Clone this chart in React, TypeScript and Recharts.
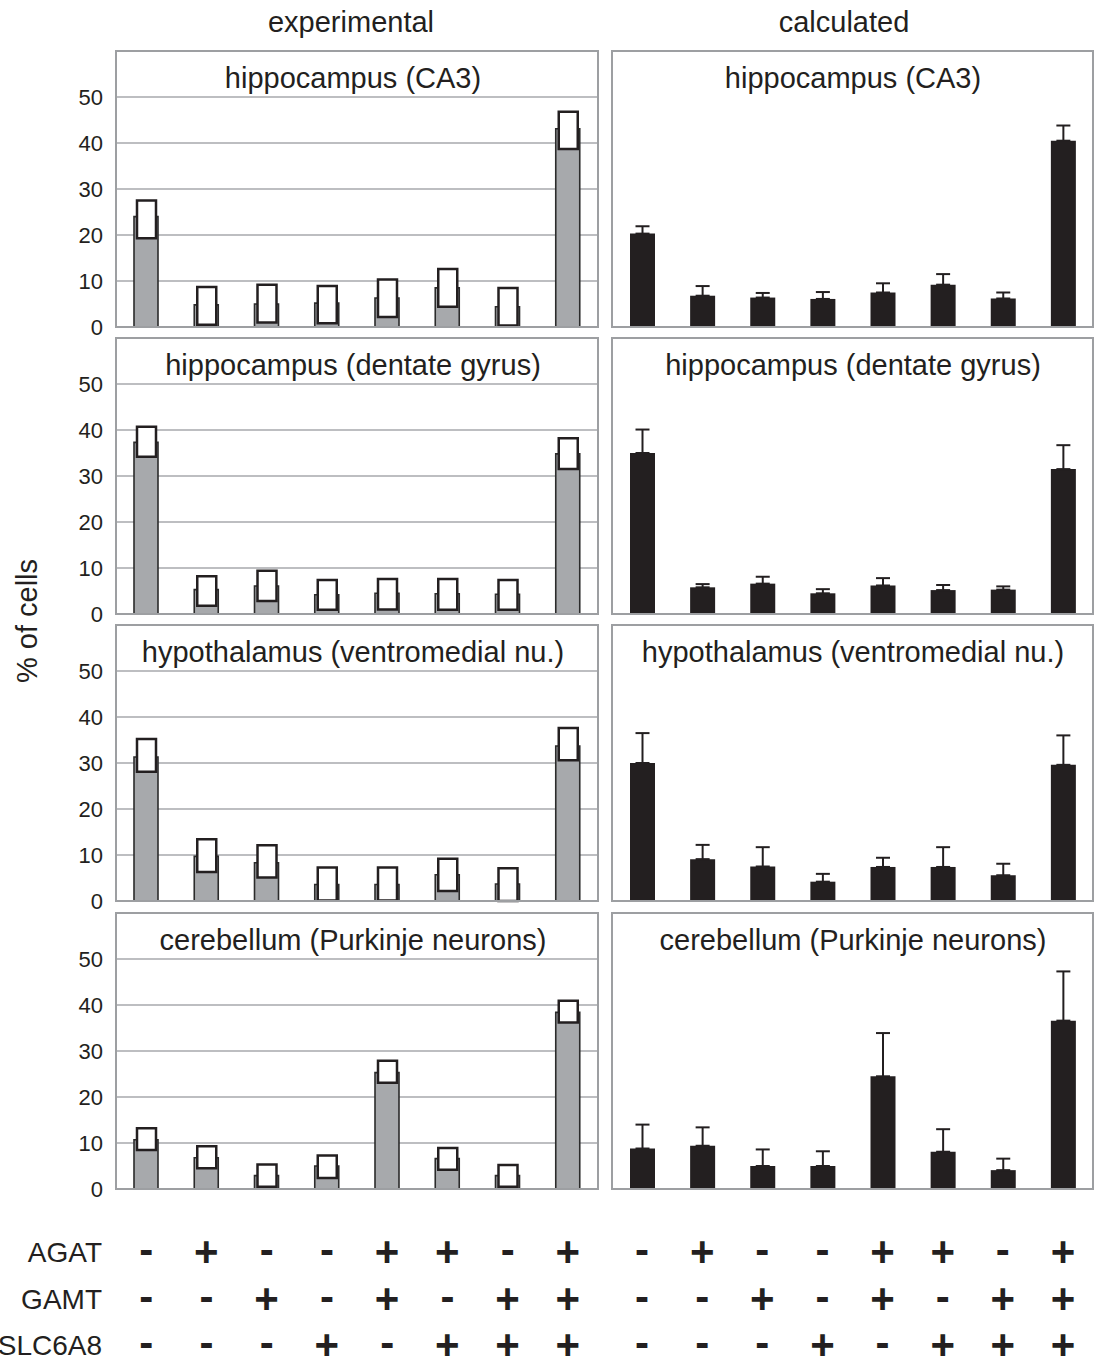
import React from "react";
import { BarChart, Bar, XAxis, YAxis, CartesianGrid, ErrorBar } from "recharts";

const FONT = '"Liberation Sans", Arial, Helvetica, sans-serif';
const INK = "#231f20";
const GRID = "#a7a9ac";

// genotype combos (bottom table)
const AGAT = ["-", "+", "-", "-", "+", "+", "-", "+"];
const GAMT = ["-", "-", "+", "-", "+", "-", "+", "+"];
const SLC6A8 = ["-", "-", "-", "+", "-", "+", "+", "+"];
const ROW_LABELS = ["AGAT", "GAMT", "SLC6A8"];
const Y_TICKS = [0, 10, 20, 30, 40, 50];

const TITLES = [
  "hippocampus (CA3)",
  "hippocampus (dentate gyrus)",
  "hypothalamus (ventromedial nu.)",
  "cerebellum (Purkinje neurons)",
];

// experimental: bar value + white box (low..high)
const ca3Exp = [24.0, 4.8, 5.0, 5.2, 6.3, 8.5, 4.4, 43.1];
const ca3ExpLow = [19.3, 0.5, 1.0, 0.8, 2.2, 4.4, 0.3, 38.7];
const ca3ExpHigh = [27.5, 8.7, 9.2, 8.9, 10.3, 12.6, 8.5, 46.8];
const dgExp = [37.3, 5.3, 6.1, 4.2, 4.5, 4.4, 4.3, 34.8];
const dgExpLow = [34.2, 1.8, 2.8, 0.9, 1.0, 0.9, 0.9, 31.5];
const dgExpHigh = [40.7, 8.2, 9.4, 7.4, 7.6, 7.6, 7.4, 38.2];
const hypExp = [31.3, 9.7, 8.3, 3.6, 3.6, 5.7, 3.7, 33.7];
const hypExpLow = [28.1, 6.3, 5.1, 0.1, 0.1, 2.2, 0.0, 30.6];
const hypExpHigh = [35.2, 13.4, 12.1, 7.3, 7.3, 9.2, 7.1, 37.6];
const cerExp = [10.7, 6.8, 2.9, 5.0, 25.3, 6.6, 2.9, 38.4];
const cerExpLow = [8.5, 4.5, 0.5, 2.4, 23.1, 4.2, 0.5, 36.2];
const cerExpHigh = [13.2, 9.3, 5.3, 7.3, 27.9, 8.9, 5.2, 40.9];

// calculated: bar value + upper error
const ca3Calc = [20.3, 6.8, 6.4, 6.1, 7.5, 9.2, 6.2, 40.5];
const ca3CalcErr = [1.6, 2.1, 1.0, 1.5, 2.0, 2.3, 1.3, 3.3];
const dgCalc = [35.0, 5.8, 6.6, 4.5, 6.2, 5.2, 5.3, 31.5];
const dgCalcErr = [5.1, 0.7, 1.5, 0.9, 1.6, 1.1, 0.7, 5.2];
const hypCalc = [30.0, 9.1, 7.5, 4.2, 7.4, 7.4, 5.6, 29.6];
const hypCalcErr = [6.5, 3.1, 4.2, 1.7, 2.0, 4.3, 2.5, 6.4];
const cerCalc = [8.8, 9.4, 5.0, 5.0, 24.5, 8.1, 4.1, 36.6];
const cerCalcErr = [5.2, 4.0, 3.6, 3.2, 9.4, 4.9, 2.5, 10.7];

const EXP = [
  [ca3Exp, ca3ExpLow, ca3ExpHigh],
  [dgExp, dgExpLow, dgExpHigh],
  [hypExp, hypExpLow, hypExpHigh],
  [cerExp, cerExpLow, cerExpHigh],
];
const CALC = [
  [ca3Calc, ca3CalcErr],
  [dgCalc, dgCalcErr],
  [hypCalc, hypCalcErr],
  [cerCalc, cerCalcErr],
];

const combo = (i: number) => AGAT[i] + GAMT[i] + SLC6A8[i];

const PANEL_TOPS = [51, 338, 625, 913];
const PLOT_H = 276;
const AXIS_H = 172;
const PAD_B = 16; // room for the "0" tick label
const LEFT_X = 116;
const LEFT_W = 482;
const RIGHT_X = 612;
const RIGHT_W = 481;
const YAXIS_W = 56;
const SIGN_DY = [77, 124, 170];
const LABEL_DY = [73, 120, 166];

function SignTick(props: any) {
  const { x, y, payload } = props;
  const s = String(payload.value);
  return (
    <g>
      {[0, 1, 2].map((r) => (
        <text key={r} x={x} y={y + SIGN_DY[r] + (s[r] === "-" ? -2 : 0)} textAnchor="middle"
          fontSize={42} fontWeight="bold" fill={INK} fontFamily={FONT}>{s[r]}</text>
      ))}
    </g>
  );
}

function ExpPanel({ idx }: { idx: number }) {
  const [v, lo, hi] = EXP[idx];
  const data = v.map((val, i) => ({ combo: combo(i), v: val, box: [lo[i], hi[i]] }));
  const bottom = idx === 3;
  return (
    <div style={{ position: "absolute", left: LEFT_X - YAXIS_W, top: PANEL_TOPS[idx] }}>
      <BarChart width={YAXIS_W + LEFT_W} height={PLOT_H + (bottom ? AXIS_H : PAD_B)} data={data}
        margin={{ top: 0, right: 0, bottom: bottom ? 0 : PAD_B, left: 0 }}>
        <CartesianGrid vertical={false} stroke={GRID} strokeWidth={1.5} />
        <XAxis xAxisId="box" dataKey="combo" hide height={0} />
        <XAxis xAxisId="main" dataKey="combo" hide={!bottom} height={AXIS_H} axisLine={false}
          tickLine={false} tickSize={0} tickMargin={0} interval={0} tick={<SignTick />} />
        <YAxis domain={[0, 60]} ticks={Y_TICKS} width={YAXIS_W} axisLine={false} tickLine={false}
          tickSize={0} tickMargin={13} interval={0} tick={{ fontSize: 22, fill: INK, fontFamily: FONT }} />
        <Bar xAxisId="main" dataKey="v" barSize={24} fill="#a7a9ac" stroke="#2b2b2b" strokeWidth={1.6}
          isAnimationActive={false} />
        <Bar xAxisId="box" dataKey="box" barSize={19} fill="#ffffff" stroke={INK} strokeWidth={2.5}
          isAnimationActive={false} />
      </BarChart>
    </div>
  );
}

function CalcPanel({ idx }: { idx: number }) {
  const [v, e] = CALC[idx];
  const data = v.map((val, i) => ({ combo: combo(i), v: val, err: [0, e[i]] }));
  const bottom = idx === 3;
  return (
    <div style={{ position: "absolute", left: RIGHT_X, top: PANEL_TOPS[idx] }}>
      <BarChart width={RIGHT_W} height={PLOT_H + (bottom ? AXIS_H : 0)} data={data}
        margin={{ top: 0, right: 0, bottom: 0, left: 0 }}>
        <CartesianGrid vertical={false} stroke={GRID} strokeWidth={1.5} />
        <XAxis dataKey="combo" hide={!bottom} height={AXIS_H} axisLine={false} tickLine={false}
          tickSize={0} tickMargin={0} interval={0} tick={<SignTick />} />
        <YAxis domain={[0, 60]} ticks={Y_TICKS} width={0} axisLine={false} tickLine={false} tick={false} />
        <Bar dataKey="v" barSize={25} fill={INK} isAnimationActive={false}>
          <ErrorBar dataKey="err" direction="y" width={7} stroke={INK} strokeWidth={2} />
        </Bar>
      </BarChart>
    </div>
  );
}

export default function App() {
  return (
    <div style={{ position: "absolute", left: 0, top: 0, width: 1097, height: 1362, overflow: "hidden",
      background: "#fff", fontFamily: FONT }}>
      {PANEL_TOPS.map((_, i) => <ExpPanel key={"e" + i} idx={i} />)}
      {PANEL_TOPS.map((_, i) => <CalcPanel key={"c" + i} idx={i} />)}
      {PANEL_TOPS.map((t, i) => (
        <React.Fragment key={"b" + i}>
          <div style={{ position: "absolute", left: LEFT_X - 1, top: t - 1, width: LEFT_W + 2,
            height: PLOT_H + 2, border: "2px solid #9d9fa2", boxSizing: "border-box", pointerEvents: "none" }} />
          <div style={{ position: "absolute", left: RIGHT_X - 1, top: t - 1, width: RIGHT_W + 2,
            height: PLOT_H + 2, border: "2px solid #9d9fa2", boxSizing: "border-box", pointerEvents: "none" }} />
        </React.Fragment>
      ))}
      <svg width={1097} height={1362} style={{ position: "absolute", left: 0, top: 0, pointerEvents: "none" }}
        fontFamily={FONT} fill={INK}>
        <text x={351} y={32} textAnchor="middle" fontSize={29}>experimental</text>
        <text x={844} y={32} textAnchor="middle" fontSize={29}>calculated</text>
        <text x={37} y={621} textAnchor="middle" fontSize={29} transform="rotate(-90 37 621)">% of cells</text>
        {TITLES.map((t, i) => (
          <React.Fragment key={t}>
            <text x={353} y={PANEL_TOPS[i] + 37} textAnchor="middle" fontSize={29}>{t}</text>
            <text x={853} y={PANEL_TOPS[i] + 37} textAnchor="middle" fontSize={29}>{t}</text>
          </React.Fragment>
        ))}
        {ROW_LABELS.map((l, r) => (
          <text key={l} x={102} y={PANEL_TOPS[3] + PLOT_H + LABEL_DY[r]} textAnchor="end" fontSize={28}>{l}</text>
        ))}
      </svg>
    </div>
  );
}
